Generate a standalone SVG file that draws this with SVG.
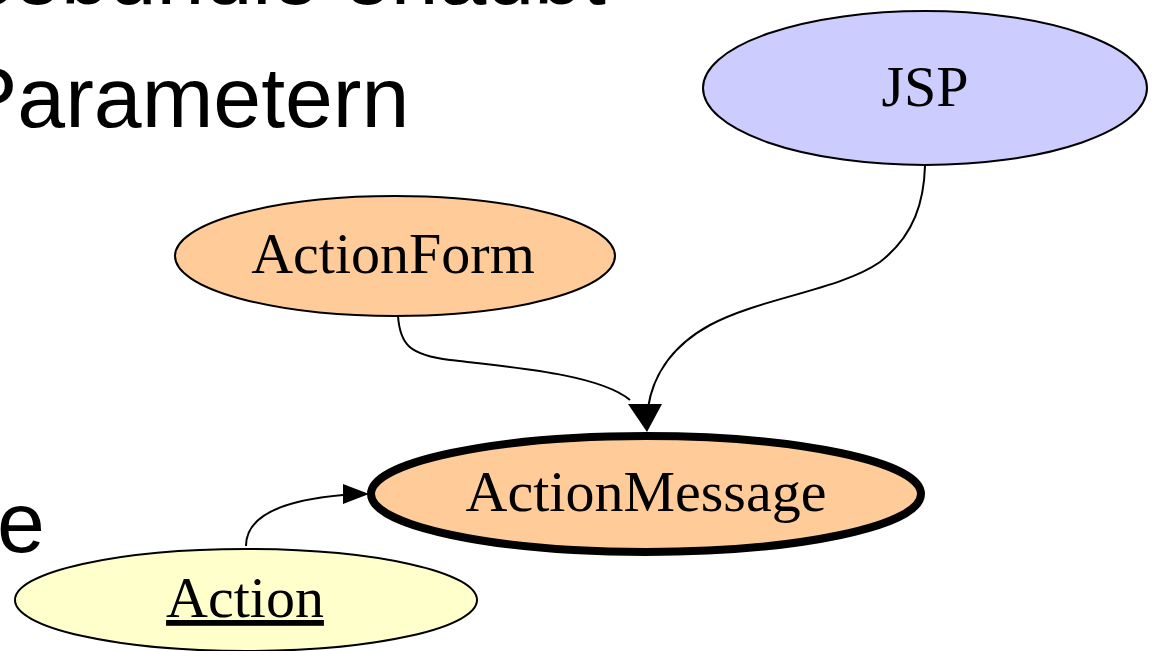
<svg xmlns="http://www.w3.org/2000/svg" width="1153" height="651" viewBox="0 0 1153 651">
<style>
.bg{font-family:"Liberation Sans",Arial,sans-serif;font-size:86px;fill:#000}
.lbl{font-family:"Liberation Serif","Times New Roman",serif;font-size:58px;fill:#000;text-anchor:middle}
.node{stroke:#000;stroke-width:2}
.edge{fill:none;stroke:#000;stroke-width:2}
</style>
<rect width="1153" height="651" fill="#fff"/>
<text class="bg" x="606" y="4" text-anchor="end">Resourcebundle erlaubt</text>
<text class="bg" x="-40" y="127">Parametern</text>
<text class="bg" x="-3" y="552">e</text>
<g id="connectors">
<path class="edge" d="M925,166 C924,200 915,235 880,262 C840,290 760,298 710,325 C668,348 652,380 648,408"/>
<path class="edge" d="M398,316 C400,345 410,355 450,360 C520,368 600,375 630,400"/>
<polygon points="628,404 662,404 647,432" fill="#000"/>
<path class="edge" d="M246,546 C246,515 285,500 343,495"/>
<polygon points="343,484 369,494 343,504" fill="#000"/>
</g>
<g id="JSP">
<ellipse class="node" cx="925" cy="88" rx="222" ry="77" fill="#ccccff"/>
<text class="lbl" x="925" y="106">JSP</text>
</g>
<g id="ActionForm">
<ellipse class="node" cx="395" cy="256" rx="220" ry="60" fill="#ffcc99"/>
<text class="lbl" x="393" y="273">ActionForm</text>
</g>
<g id="ActionMessage">
<ellipse cx="646" cy="494" rx="275" ry="58" fill="#ffcc99" stroke="#000" stroke-width="8"/>
<text class="lbl" x="646" y="511">ActionMessage</text>
</g>
<g id="Action">
<ellipse class="node" cx="246" cy="600" rx="231" ry="51" fill="#ffffcc"/>
<text class="lbl" x="245" y="617" text-decoration="underline">Action</text>
</g>
</svg>
